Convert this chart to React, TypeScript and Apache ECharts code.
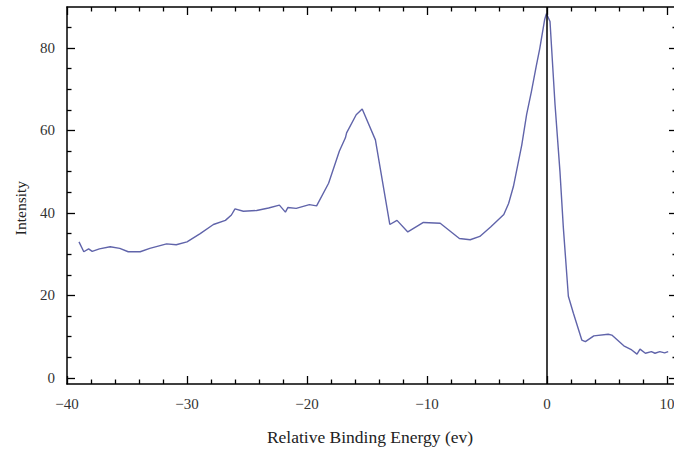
import React, { useEffect, useRef } from "react";
import * as echarts from "echarts";

const energy = [
  -39.0, -38.6, -38.2, -37.9, -37.3, -36.4, -35.6, -34.9, -33.9, -33.1, -31.7, -30.9, -30.0,
  -28.9, -27.8, -26.8, -26.3, -26.0, -25.3, -24.2, -23.2, -22.3, -21.8, -21.6, -20.9, -19.8,
  -19.2, -18.2, -17.3, -16.8, -16.7, -15.9, -15.4, -14.3, -13.1, -12.5, -11.6, -10.3, -8.9,
  -7.3, -6.4, -5.6, -4.7, -3.6, -3.2, -2.8, -2.1, -1.7, -1.3, -0.9, -0.6, -0.2, -0.05, 0.25,
  0.67, 1.08, 1.36, 1.78, 2.2, 2.9, 3.2, 3.9, 5.1, 5.4, 6.4, 7.06, 7.5, 7.75, 8.2, 8.7, 9.0,
  9.4, 9.8, 10.1,
];
const intensity = [
  33.0, 30.6, 31.3, 30.7, 31.3, 31.8, 31.4, 30.6, 30.6, 31.4, 32.5, 32.3, 33.0,
  35.0, 37.2, 38.2, 39.5, 41.0, 40.4, 40.6, 41.2, 41.9, 40.2, 41.3, 41.1, 42.0,
  41.7, 47.2, 55.0, 58.2, 59.4, 63.8, 65.2, 57.7, 37.2, 38.2, 35.4, 37.7, 37.5,
  33.8, 33.5, 34.3, 36.6, 39.6, 42.3, 46.4, 56.5, 63.8, 69.4, 75.5, 79.9, 86.8, 88.3, 86.4,
  66.2, 50.0, 36.5, 19.8, 15.7, 9.2, 8.8, 10.2, 10.6, 10.4, 7.8, 6.8, 5.8, 7.0, 6.0, 6.4, 6.0,
  6.4, 6.1, 6.4,
];
const xMajorTicks = [-40, -30, -20, -10, 0, 10];
const xMinorTicks = [-38, -36, -34, -32, -28, -26, -24, -22, -18, -16, -14, -12, -8, -6, -4, -2, 2, 4, 6, 8];
const yMajorTicks = [0, 20, 40, 60, 80];
const yMinorTicks = [5, 10, 15, 25, 30, 35, 45, 50, 55, 65, 70, 75, 85];

const X_MIN = -40;
const X_MAX = 10.833;
const Y_MIN = -1.45;
const Y_MAX = 89.9;

const FONT = "'Liberation Serif', 'Times New Roman', serif";

export default function App() {
  const ref = useRef<HTMLDivElement>(null);
  useEffect(() => {
    if (!ref.current) return;
    const chart = echarts.init(ref.current, undefined, { renderer: "svg" });
    const fmt = (v: number) => String(v).replace("-", "\u2212");
    const lineStyle = { color: "#000", width: 1.5 };
    const mkX = (position: string, ticks: number[], len: number, labels: boolean, line: boolean) => ({
      type: "value",
      position,
      min: X_MIN,
      max: X_MAX,
      axisLine: { show: line, onZero: false, lineStyle },
      axisTick: { show: true, inside: true, length: len, customValues: ticks, lineStyle: { color: "#000", width: 1.3 } },
      axisLabel: labels
        ? { show: true, customValues: ticks, formatter: fmt, margin: 12, color: "#333", fontFamily: FONT, fontSize: 15 }
        : { show: false },
      splitLine: { show: false },
    });
    const mkY = (position: string, ticks: number[], len: number, labels: boolean, line: boolean) => ({
      type: "value",
      position,
      min: Y_MIN,
      max: Y_MAX,
      axisLine: { show: line, onZero: false, lineStyle },
      axisTick: { show: true, inside: true, length: len, customValues: ticks, lineStyle: { color: "#000", width: 1.3 } },
      axisLabel: labels
        ? { show: true, customValues: ticks, formatter: fmt, margin: 12, color: "#333", fontFamily: FONT, fontSize: 15 }
        : { show: false },
      splitLine: { show: false },
    });
    chart.setOption({
      animation: false,
      backgroundColor: "#fff",
      grid: { left: 67, top: 7, width: 610, height: 377, containLabel: false, outerBoundsMode: "none" },
      xAxis: [
        mkX("bottom", xMajorTicks, 8, true, true),
        mkX("top", xMajorTicks, 8, false, true),
        mkX("bottom", xMinorTicks, 4.5, false, false),
        mkX("top", xMinorTicks, 4.5, false, false),
      ],
      yAxis: [
        mkY("left", yMajorTicks, 8, true, true),
        mkY("right", yMajorTicks, 8, false, true),
        mkY("left", yMinorTicks, 4.5, false, false),
        mkY("right", yMinorTicks, 4.5, false, false),
      ],
      graphic: [
        {
          type: "text",
          x: 20,
          y: 208,
          rotation: Math.PI / 2,
          style: { text: "Intensity", fill: "#222", font: `15.5px ${FONT}`, align: "center", verticalAlign: "middle" },
        },
        {
          type: "text",
          x: 370,
          y: 437,
          style: { text: "Relative Binding Energy (ev)", fill: "#222", font: `17.5px ${FONT}`, align: "center", verticalAlign: "middle" },
        },
      ],
      series: [
        {
          type: "line",
          xAxisIndex: 0,
          yAxisIndex: 0,
          data: energy.map((e, i) => [e, intensity[i]]),
          showSymbol: false,
          lineStyle: { color: "#6064aa", width: 1.4 },
          markLine: {
            silent: true,
            symbol: ["none", "none"],
            label: { show: false },
            lineStyle: { color: "#000", width: 1.5, type: "solid" },
            data: [{ xAxis: 0 }],
          },
        },
      ],
    });
    return () => chart.dispose();
  }, []);
  return <div ref={ref} style={{ position: "absolute", left: 0, top: 0, width: 674, height: 450 }} />;
}
